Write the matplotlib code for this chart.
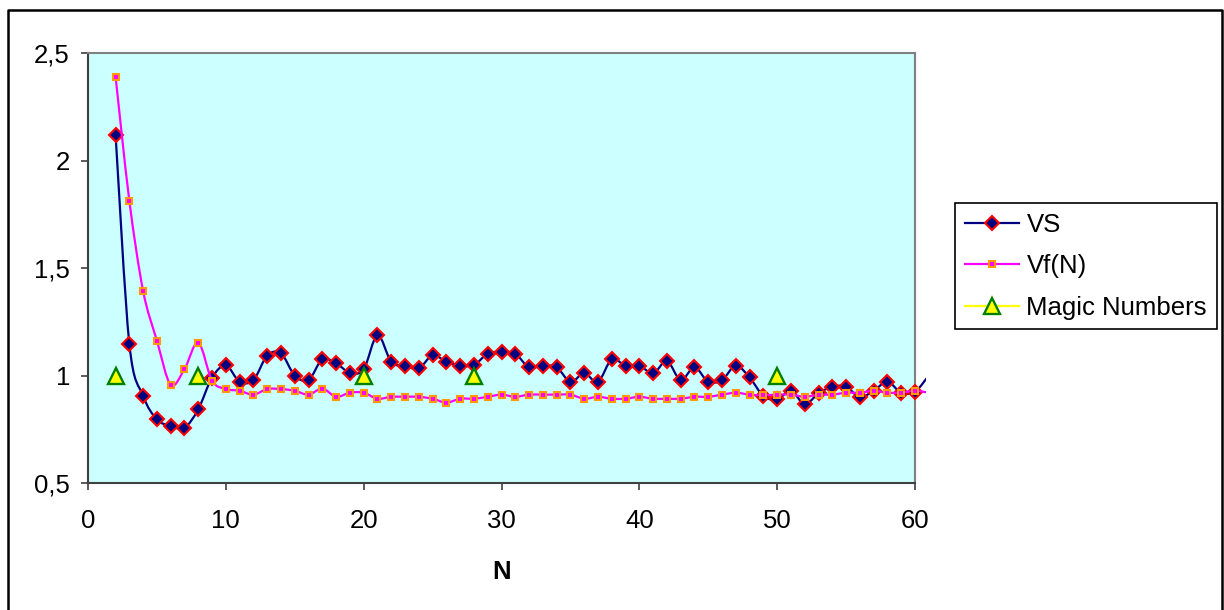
import matplotlib
matplotlib.use("Agg")
import matplotlib.pyplot as plt
from matplotlib.path import Path
from matplotlib.patches import PathPatch, Rectangle
from matplotlib.lines import Line2D
from matplotlib.ticker import FuncFormatter

plt.rcParams['font.family'] = ['Liberation Sans', 'DejaVu Sans']
FS = 18.5

# ---------------- data ----------------
n_values = list(range(2, 62))
vs_values = [2.12, 1.147, 0.905, 0.796, 0.765, 0.757, 0.843, 0.99, 1.047, 0.971,
             0.979, 1.092, 1.103, 1.0, 0.979, 1.075, 1.057, 1.013, 1.029, 1.187,
             1.064, 1.044, 1.033, 1.094, 1.064, 1.046, 1.049, 1.101, 1.11, 1.101,
             1.038, 1.046, 1.038, 0.971, 1.01, 0.971, 1.075, 1.046, 1.046, 1.01,
             1.067, 0.979, 1.038, 0.971, 0.979, 1.046, 0.991, 0.905, 0.889, 0.929,
             0.867, 0.917, 0.948, 0.948, 0.899, 0.929, 0.971, 0.92, 0.925, 1.0]
vf_values = [2.39, 1.813, 1.393, 1.162, 0.957, 1.03, 1.153, 0.976, 0.937, 0.929,
             0.911, 0.937, 0.937, 0.929, 0.911, 0.939, 0.901, 0.92, 0.92, 0.892,
             0.901, 0.901, 0.901, 0.892, 0.874, 0.892, 0.892, 0.901, 0.911, 0.901,
             0.911, 0.911, 0.911, 0.911, 0.892, 0.901, 0.892, 0.892, 0.901, 0.892,
             0.892, 0.892, 0.901, 0.901, 0.911, 0.92, 0.911, 0.908, 0.911, 0.911,
             0.901, 0.911, 0.911, 0.92, 0.92, 0.929, 0.92, 0.92, 0.929, 0.92]
magic_n = [2, 8, 20, 28, 50]
magic_values = [1, 1, 1, 1, 1]

x_ticks = [0, 10, 20, 30, 40, 50, 60]
y_ticks = [0.5, 1.0, 1.5, 2.0, 2.5]
XMIN, XMAX = 0, 60
YMIN, YMAX = 0.5, 2.5

# ---------------- figure ----------------
W, H = 1224, 610
fig = plt.figure(figsize=(W / 100, H / 100), dpi=100)
ax = fig.add_axes([88 / W, 1 - 483 / H, (915 - 88) / W, (483 - 53) / H])
ax.set_facecolor('#CCFFFF')
ax.set_xlim(XMIN, XMAX)
ax.set_ylim(YMIN, YMAX)


def smooth_path(xs, ys):
    verts = [(xs[0], ys[0])]
    codes = [Path.MOVETO]
    n = len(xs)
    for i in range(n - 1):
        p0 = i - 1 if i > 0 else i
        p3 = i + 2 if i + 2 < n else i + 1
        c1 = (xs[i] + (xs[i + 1] - xs[p0]) / 6, ys[i] + (ys[i + 1] - ys[p0]) / 6)
        c2 = (xs[i + 1] - (xs[p3] - xs[i]) / 6, ys[i + 1] - (ys[p3] - ys[i]) / 6)
        verts += [c1, c2, (xs[i + 1], ys[i + 1])]
        codes += [Path.CURVE4] * 3
    return Path(verts, codes)


clip_rect = Rectangle((0, 0), 1.013, 1.0, transform=ax.transAxes,
                      facecolor='none', edgecolor='none')

VS_STYLE = dict(marker='D', ms=6.8, mfc='#000080', mec='#FF0000', mew=1.5)
VF_STYLE = dict(marker='s', ms=3.9, mfc='#FF00FF', mec='#FF9900', mew=1.5)
MAGIC_STYLE = dict(marker='^', ms=12, mfc='#FFFF00', mec='#008000', mew=1.7)


def draw_series(xs, ys, color, style, z):
    patch = PathPatch(smooth_path(xs, ys), facecolor='none', edgecolor=color,
                      lw=1.6, transform=ax.transData, zorder=z)
    ax.add_patch(patch)
    patch.set_clip_path(clip_rect)
    mx = [x for x in xs if XMIN <= x <= XMAX]
    my = [y for x, y in zip(xs, ys) if XMIN <= x <= XMAX]
    ax.plot(mx, my, linestyle='none', clip_on=False, zorder=z + 0.5, **style)


draw_series(n_values, vs_values, '#000080', VS_STYLE, 3)
draw_series(n_values, vf_values, '#FF00FF', VF_STYLE, 4)
ax.plot(magic_n, magic_values, linestyle='none', clip_on=False, zorder=6, **MAGIC_STYLE)

# axes styling
for side in ['top', 'right']:
    ax.spines[side].set_color('#808080')
    ax.spines[side].set_linewidth(1.5)
for side in ['left', 'bottom']:
    ax.spines[side].set_color('#404040')
    ax.spines[side].set_linewidth(1.5)

ax.set_xticks(x_ticks)
ax.set_yticks(y_ticks)
ax.yaxis.set_major_formatter(FuncFormatter(lambda v, p: f'{v:g}'.replace('.', ',')))
ax.tick_params(axis='both', direction='out', length=5, width=1.2, color='#404040',
               labelsize=FS, labelcolor='black')
ax.tick_params(axis='x', pad=14)
ax.tick_params(axis='y', pad=8)
ax.set_xlabel('N', fontsize=FS, fontweight='bold', labelpad=19)

# legend
handles = [
    Line2D([], [], color='#000080', lw=1.6, **VS_STYLE),
    Line2D([], [], color='#FF00FF', lw=1.6, **VF_STYLE),
    Line2D([], [], color='#FFFF00', lw=1.6, **MAGIC_STYLE),
]
labels = ['VS', 'Vf(N)', 'Magic Numbers']
leg = fig.legend(handles, labels, loc='upper left',
                 bbox_to_anchor=(955 / W, 1 - 203 / H), bbox_transform=fig.transFigure,
                 fontsize=FS, frameon=True, fancybox=False, edgecolor='black',
                 framealpha=1, borderpad=0.38, handlelength=2.1, handletextpad=0.3,
                 labelspacing=0.68, borderaxespad=0, numpoints=1)
leg.get_frame().set_linewidth(1.2)

# outer chart border (bottom edge is cut off in the reference)
border = Line2D([8 / W, 8 / W, 1222 / W, 1222 / W],
                [0, 1 - 10 / H, 1 - 10 / H, 0],
                transform=fig.transFigure, color='black', lw=1.8)
fig.add_artist(border)

fig.savefig('out.png', dpi=100)
